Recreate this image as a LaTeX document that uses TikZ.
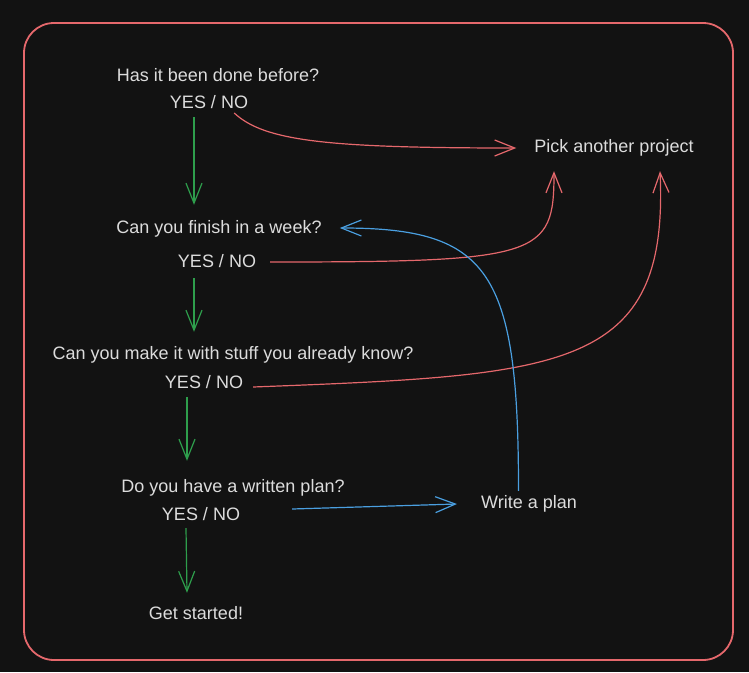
\documentclass[tikz,border=0pt]{standalone}
\usepackage{fontspec}
\setmainfont{Liberation Sans}
\usepackage{xcolor}
\usetikzlibrary{arrows.meta}
\definecolor{canvas}{HTML}{121212}
\definecolor{ink}{HTML}{DCDCDC}
\definecolor{nored}{HTML}{E5686C}
\definecolor{yesgreen}{HTML}{2E9E4C}
\definecolor{planblue}{HTML}{4A9FE0}
\begin{document}
\begin{tikzpicture}[x=1pt,y=-1pt,font=\fontsize{18}{22}\selectfont,
txt/.style={text=ink,inner sep=0pt,text height=13pt,text depth=0pt},
arr/.style={-{Straight Barb[length=20pt,width=16pt]},line width=1.2pt},
yes/.style={arr,draw=yesgreen},no/.style={arr,draw=nored},blue/.style={arr,draw=planblue}]
\fill[canvas] (0,0) rectangle (749,672);
\useasboundingbox (0,0) rectangle (749,672);
\draw[nored,line width=1.8pt,rounded corners=30pt] (24,23) rectangle (733,660);
\node[txt] (done) at (218,75) {Has it been done before?};
\node[txt] (doneyn) at (209,102) {YES / NO};
\node[txt] (week) at (219,227) {Can you finish in a week?};
\node[txt] (weekyn) at (217,261) {YES / NO};
\node[txt] (know) at (233,353) {Can you make it with stuff you already know?};
\node[txt] (knowyn) at (204,382) {YES / NO};
\node[txt] (plan) at (233,486) {Do you have a written plan?};
\node[txt] (planyn) at (201,514) {YES / NO};
\node[txt] (start) at (196,613) {Get started!};
\node[txt] (pick) at (614,146) {Pick another project};
\node[txt] (write) at (529,502) {Write a plan};
% yes: down the list
\draw[yes] ([xshift=-15pt,yshift=-8.5pt]doneyn.south)--([xshift=-25pt,yshift=15.5pt]week.north);
\draw[yes] ([xshift=-23pt,yshift=-10.5pt]weekyn.south)--([xshift=-39pt,yshift=14.5pt]know.north);
\draw[yes] ([xshift=-17pt,yshift=-8.5pt]knowyn.south)--([xshift=-46pt,yshift=18.5pt]plan.north);
\draw[yes] ([xshift=-15pt,yshift=-7.5pt]planyn.south)--([xshift=-9pt,yshift=13.5pt]start.north);
% no: give up
\draw[no] ([xshift=-14pt,yshift=-11pt]doneyn.east) .. controls +(30,28) and +(-190,0) .. ([xshift=-18pt,yshift=-2pt]pick.west);
\draw[no] ([xshift=14pt,yshift=-1pt]weekyn.east) .. controls +(270,0) and +(0,85) .. ([xshift=-60pt,yshift=-18.5pt]pick.south);
\draw[no] ([xshift=10pt,yshift=-5pt]knowyn.east) .. controls +(310,-12) and +(9,200) .. ([xshift=46pt,yshift=-18.5pt]pick.south);
% no plan yet
\draw[blue] ([xshift=52pt,yshift=5pt]planyn.east)--([xshift=-24pt,yshift=-2pt]write.west);
\draw[blue] ([xshift=-10.5pt,yshift=4.5pt]write.north) .. controls +(0,-220) and +(150,0) .. ([xshift=18pt,yshift=-1pt]week.east);
\end{tikzpicture}
\end{document}
